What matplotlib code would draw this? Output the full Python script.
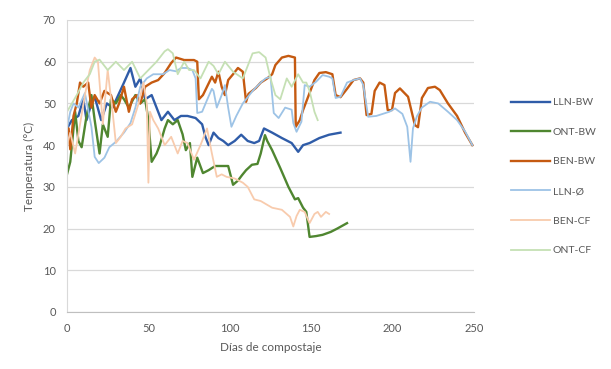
import matplotlib
matplotlib.use("Agg")
import matplotlib.pyplot as plt

# dias de compostaje / temperatura
lln_bw_x = [0, 3, 7, 10, 12, 15, 17, 21, 24.5, 28, 31, 35, 39, 42, 45, 48, 52, 55, 58, 62, 66, 70, 74, 79, 83,
            85, 87, 90, 93, 96, 99, 103, 107, 111, 115, 118, 121, 126, 132, 138, 142, 145, 149, 155, 161, 168]
lln_bw_y = [44, 46, 47, 51, 46, 50, 51.6, 46, 50, 49, 51.6, 55, 58.5, 54, 56, 51, 52, 49, 46, 48, 46, 47, 47, 46.5, 45,
            42, 40, 43, 41.7, 41, 40, 41, 42.5, 41, 40.5, 41, 44, 43, 41.7, 40.5, 38.4, 40, 40.5, 41.7, 42.5, 43]

ont_bw_x = [0, 2, 3.5, 5, 7, 9, 12, 15, 17, 20, 22, 25, 27, 30, 33, 35, 38, 42, 45, 48, 50, 52, 55, 57, 60, 62, 65,
            68, 71, 73, 75.5, 77, 80, 83.5, 87, 91, 95, 99, 102, 105, 107.5, 110, 113.6, 117, 119, 121.6, 123, 126,
            131, 136, 140, 142, 145, 147, 149, 153, 157, 162, 166, 172]
ont_bw_y = [33, 36, 42, 48, 41, 39.5, 47, 52, 46, 38, 45, 42, 51, 50, 52, 51, 49, 52, 50, 51, 46, 36, 38, 40, 44, 46,
            45, 46, 42.6, 38.8, 40.5, 32.4, 37, 33.3, 34, 35, 35, 35, 30.5, 31.5, 32.8, 34, 35.3, 35.5, 38, 42.4, 41,
            38.8, 34.5, 30, 27, 27.3, 25, 24, 18, 18.2, 18.5, 19.2, 20, 21.3]

ben_bw_x = [0, 1, 2, 4, 6, 8, 10, 13, 15, 17, 20, 23, 27, 30, 32, 35, 38, 40, 43, 45, 48, 52, 56, 60, 64, 67, 72,
            78, 80, 81, 83.5, 86, 89, 91, 93, 95, 97, 99, 102, 105, 108, 110, 111.5, 116, 119, 123, 126, 128, 132,
            136, 140, 140.5, 143, 145, 149, 152, 155, 159, 163, 165, 168, 172, 176, 180, 182, 184, 187, 189, 192,
            195, 197, 199.6, 201.5, 204.5, 209.5, 213.7, 215.6, 218, 221.7, 226, 229, 234, 239.6, 244.5, 249]
ben_bw_y = [44, 44, 39, 47, 50, 55, 54, 55, 49, 52, 50, 53, 52, 48, 50, 54, 48, 51, 52, 50, 54, 55, 55.6, 57.3, 59.7,
            61, 60.4, 60.4, 60, 51, 52, 54, 56.4, 55, 57.6, 54, 52, 55.6, 57, 58.5, 57.6, 50.4, 52.3, 53.7, 55, 56,
            57, 59.2, 61, 61.4, 61, 44.4, 46, 48.4, 52.5, 55.6, 57.3, 57.5, 57, 52, 51.5, 53.5, 55.6, 56, 55, 47.2,
            47.5, 53, 55, 54.4, 48.4, 48.4, 52.5, 53.6, 51.6, 44.8, 44.3, 51.3, 53.7, 54, 53.2, 50, 47, 43, 40]

lln_0_x = [0, 2, 4, 7, 11, 15, 17, 19.5, 23, 26, 30, 35, 39, 42, 45, 49, 53, 59, 63, 67, 70, 74, 77, 79, 80, 83, 86,
           89, 90, 92, 95, 97, 99, 101, 104, 108, 111, 114, 119, 122, 125, 127, 130, 134, 138, 139, 141, 144, 146,
           149, 153, 157, 161, 163, 165, 168, 172, 176, 180, 182, 185, 190, 194, 198, 201.5, 206, 209, 211, 212.5,
           215, 218, 223, 228, 234, 239.6, 244.5, 249]
lln_0_y = [44, 48, 50, 49, 52.5, 44.4, 37.2, 35.7, 37, 39.5, 40.8, 43, 45.3, 49, 54, 56, 57, 57, 58, 57.7, 58.5,
           58.5, 58, 56, 47.7, 48, 50.8, 53.5, 53, 49, 52, 54.4, 49, 44.4, 47, 50, 51.5, 53, 55, 56, 56.4, 47.7,
           46.5, 49, 48.5, 45.3, 43.2, 45.6, 54.4, 54, 55.2, 56.8, 56.4, 56, 51.3, 51.6, 55, 55.6, 56, 54.4, 46.8,
           47, 47.5, 48, 48.8, 47.5, 44.4, 36, 44, 47, 49, 50.4, 50, 48, 46, 43.3, 40]

ben_cf_x = [0, 2, 5, 8, 11, 14, 17, 19, 22, 25, 28, 30, 33, 36, 40, 44, 47, 49, 50, 51, 53, 56, 60, 64, 68, 71, 74,
            78, 82, 86, 89, 92, 95, 98, 103, 108, 111, 115, 119, 126, 132, 137, 139, 141, 143, 146, 149, 152, 154,
            156, 159, 161]
ben_cf_y = [40, 43, 38, 45, 52, 58, 61, 60, 45, 58, 48, 40.5, 42, 44, 45, 50, 55, 50, 31, 48, 46, 44, 40, 42, 38,
            41, 40.5, 36.5, 40, 44, 38, 32.4, 33, 32.4, 32, 31, 30, 27, 26.6, 25, 24.5, 22.8, 20.5, 23, 24.5, 24,
            21.3, 23.5, 24, 22.8, 24, 23.5]

ont_cf_x = [0, 3, 6, 10, 14, 17, 20, 25, 30, 35, 40, 45, 50, 55, 60, 62, 65, 68, 72, 75, 78, 82, 87, 90, 93, 97,
            102, 108, 111, 114, 118, 122, 125, 128, 131, 135, 138, 142, 145, 147, 149, 152, 154]
ont_cf_y = [48, 50, 52, 55, 57, 60, 60.5, 58, 60, 58, 60, 56, 58, 60, 62.5, 63, 62, 57, 60, 58, 58, 56, 60, 59, 57,
            60, 57.6, 56, 59, 62, 62.3, 61, 56, 52, 51, 56, 54, 57, 55, 55, 53, 48, 46]

series = [
    ("LLN-BW", lln_bw_x, lln_bw_y, "#2f5ca8", 1.7),
    ("ONT-BW", ont_bw_x, ont_bw_y, "#4f8630", 1.7),
    ("BEN-BW", ben_bw_x, ben_bw_y, "#c55a11", 1.7),
    ("LLN-\u00d8", lln_0_x, lln_0_y, "#9dc3e6", 1.3),
    ("BEN-CF", ben_cf_x, ben_cf_y, "#f8cbad", 1.3),
    ("ONT-CF", ont_cf_x, ont_cf_y, "#c5e0b4", 1.3),
]

plt.rcParams["font.family"] = ["Lato", "DejaVu Sans"]
grey = "#595959"

fig = plt.figure(figsize=(6.11, 3.69), dpi=100)
ax = fig.add_axes([67 / 611, 1 - 312 / 369, (474 - 67) / 611, (312 - 20) / 369])

for name, xs, ys, col, lw in series:
    ax.plot(xs, ys, color=col, lw=lw, label=name, solid_joinstyle="round")

ax.set_xlim(0, 250)
ax.set_ylim(0, 70)
ax.set_xticks(range(0, 251, 50))
ax.set_yticks(range(0, 71, 10))
ax.grid(axis="y", color="#d9d9d9", lw=0.9)
ax.set_axisbelow(True)
for s in ["top", "right"]:
    ax.spines[s].set_visible(False)
ax.spines["left"].set_color("#d9d9d9")
ax.spines["bottom"].set_color("#bfbfbf")
ax.tick_params(length=0, labelsize=8, colors=grey, pad=8)
ax.set_xlabel("D\u00edas de compostaje", fontsize=8.5, color=grey, labelpad=6)
ax.set_ylabel("Temperatura (\u00b0C)", fontsize=8.5, color=grey, labelpad=6)

leg = ax.legend(loc="upper left", bbox_to_anchor=(511 / 611, 1 - 98 / 369), bbox_transform=fig.transFigure,
                frameon=False, fontsize=7.5, handlelength=3.7, handletextpad=0.3, labelspacing=1.95,
                borderpad=0, borderaxespad=0)
for t in leg.get_texts():
    t.set_color(grey)

fig.savefig("out.png", dpi=100)
